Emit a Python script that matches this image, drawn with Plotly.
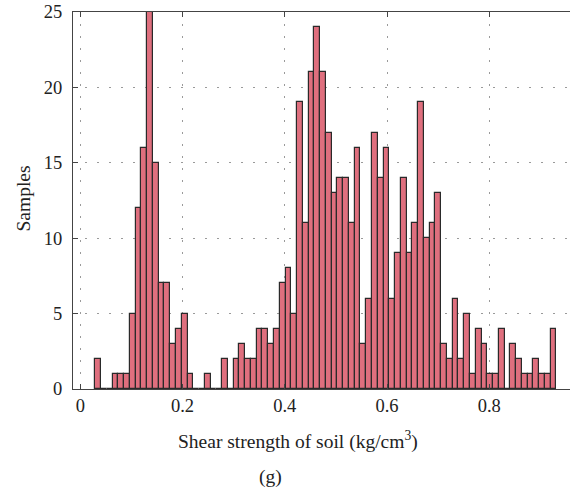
import plotly.graph_objects as go

# Histogram of soil shear strength: 80 equal-width bins
bin_start = 0.0293
bin_width = 0.011277
counts = [
    2, 0, 0, 1, 1, 1, 5, 12, 16, 25,
    15, 7, 7, 3, 4, 5, 1, 0, 0, 1,
    0, 0, 2, 0, 2, 3, 2, 2, 4, 4,
    3, 4, 7, 8, 5, 19, 11, 21, 24, 21,
    17, 13, 14, 14, 11, 16, 3, 6, 17, 14,
    16, 6, 9, 14, 9, 11, 19, 10, 11, 13,
    3, 2, 6, 2, 5, 1, 4, 3, 1, 1,
    4, 0, 3, 2, 1, 1, 2, 1, 1, 4,
]
x_ticks = [0, 0.2, 0.4, 0.6, 0.8]
x_tick_labels = ["0", "0.2", "0.4", "0.6", "0.8"]
y_ticks = [0, 5, 10, 15, 20, 25]
y_tick_labels = ["0", "5", "10", "15", "20", "25"]

centers = [bin_start + (i + 0.5) * bin_width for i in range(len(counts))]

FONT = "Liberation Serif"
AXIS_COLOR = "#444444"
TICK_SIZE = 18.5
TITLE_SIZE = 19.5

fig = go.Figure(
    go.Bar(
        x=centers,
        y=counts,
        width=bin_width,
        marker=dict(color="#DF6F7E", line=dict(color="#2a2a2a", width=1.2)),
        hoverinfo="x+y",
    )
)

W, H = 570, 492
L, T, B, R = 73, 12, 103, 0
plot_w = W - L - R
plot_h = H - T - B

fig.update_layout(
    width=W,
    height=H,
    margin=dict(l=L, r=R, t=T, b=B, pad=0),
    plot_bgcolor="white",
    paper_bgcolor="white",
    bargap=0,
    showlegend=False,
    font=dict(family=FONT, size=TICK_SIZE, color="#222222"),
)

fig.update_xaxes(
    range=[-0.0143, 0.958],
    tickvals=x_ticks,
    ticktext=x_tick_labels,
    ticks="inside",
    ticklen=5,
    tickcolor=AXIS_COLOR,
    showline=True,
    linecolor=AXIS_COLOR,
    linewidth=1.3,
    mirror="ticks",
    showgrid=True,
    gridcolor="#9a9a9a",
    gridwidth=1,
    griddash="2px,10px",
    zeroline=False,
    tickfont=dict(family=FONT, size=TICK_SIZE),
)

fig.update_yaxes(
    range=[0, 25],
    tickvals=y_ticks,
    ticktext=y_tick_labels,
    ticks="inside",
    ticklen=5,
    tickcolor=AXIS_COLOR,
    showline=True,
    linecolor=AXIS_COLOR,
    linewidth=1.3,
    mirror=False,
    showgrid=True,
    gridcolor="#9a9a9a",
    gridwidth=1,
    griddash="2px,10px",
    zeroline=False,
    ticklabelstandoff=6,
    tickfont=dict(family=FONT, size=TICK_SIZE),
)


def px_to_paper_x(px):
    return (px - L) / plot_w


def px_to_paper_y(py):
    return (H - B - py) / plot_h


fig.add_annotation(
    text="Shear strength of soil (kg/cm<sup>3</sup>)",
    xref="paper", yref="paper",
    x=px_to_paper_x(297.5), y=px_to_paper_y(440),
    xanchor="center", yanchor="middle",
    showarrow=False,
    font=dict(family=FONT, size=TITLE_SIZE),
)
fig.add_annotation(
    text="(g)",
    xref="paper", yref="paper",
    x=px_to_paper_x(270), y=px_to_paper_y(476.5),
    xanchor="center", yanchor="middle",
    showarrow=False,
    font=dict(family=FONT, size=TITLE_SIZE),
)
fig.add_annotation(
    text="Samples",
    xref="paper", yref="paper",
    x=px_to_paper_x(22.5), y=px_to_paper_y(199),
    xanchor="center", yanchor="middle",
    textangle=-90,
    showarrow=False,
    font=dict(family=FONT, size=TITLE_SIZE),
)

fig.write_html("out.html")
